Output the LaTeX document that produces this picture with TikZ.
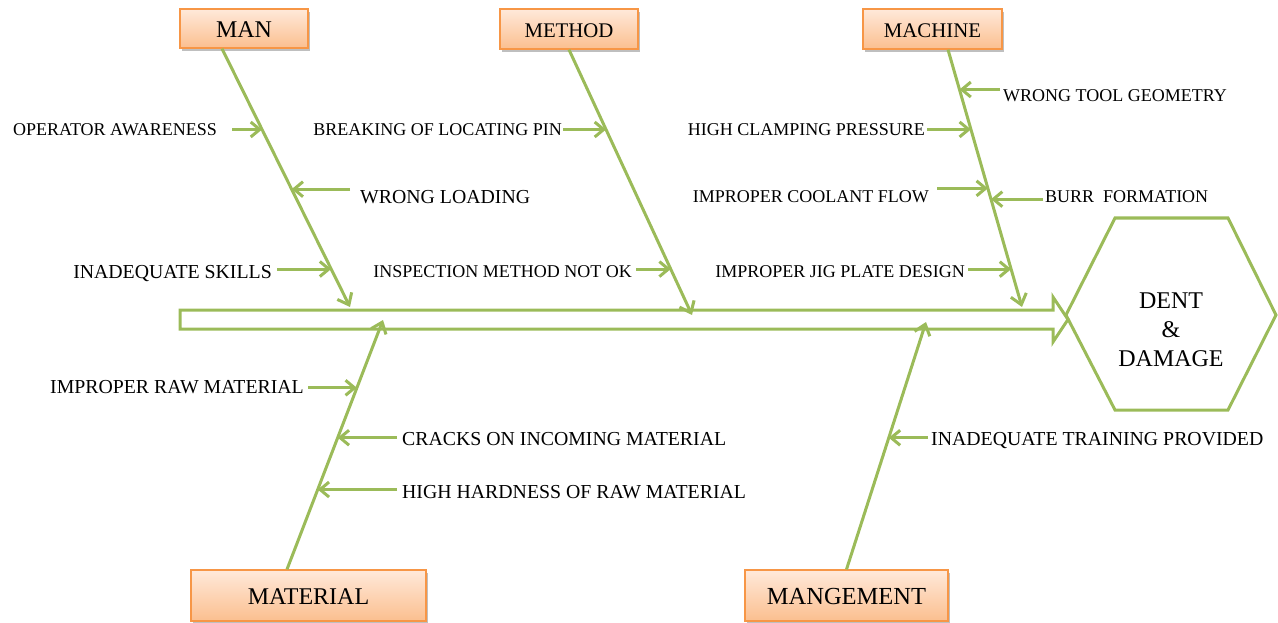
\documentclass[tikz,border=0pt]{standalone}
\usepackage{fontspec}
\setmainfont{Liberation Serif}
\usetikzlibrary{arrows.meta,calc,shadows}

\definecolor{fishgreen}{RGB}{155,187,89}
\definecolor{catedge}{RGB}{247,150,70}
\definecolor{cattop}{RGB}{255,233,218}
\definecolor{catbot}{RGB}{251,191,143}

\tikzset{
  bone/.style={fishgreen, line width=3pt, -{Straight Barb[length=10pt,width=16pt]}},
  cause/.style={fishgreen, line width=3pt, -{Straight Barb[length=9pt,width=15pt]}},
  cat/.style={draw=catedge, line width=1.3pt, top color=cattop, bottom color=catbot,
    drop shadow={shadow xshift=2pt,shadow yshift=-3pt,opacity=0.5}, inner sep=0pt},
  lbl/.style={inner sep=0pt, text height=11.8pt, text depth=0pt, font=\fontsize{18}{20}\selectfont},
  lblbig/.style={inner sep=0pt, text height=13pt, text depth=0pt, font=\fontsize{19.8}{22}\selectfont},
}

\begin{document}
\begin{tikzpicture}[x=1pt,y=-1pt]
        \useasboundingbox (0,0) rectangle (1278,623);
        %% spine and head
        \draw[fishgreen,line width=3pt,line join=miter] (180,310) -- (1053,310) -- (1053,297) -- (1068,319.5)
            -- (1053,342) -- (1053,329) -- (180,329) -- cycle;
        \draw[fishgreen,line width=3pt] (1066,315) -- (1115,218) -- (1228,218) -- (1276,315) -- (1228,410) -- (1115,410) -- cycle;
        \node[align=center,font=\fontsize{24}{29}\selectfont] (DD) at (1171,330) {DENT\\\&\\DAMAGE};
        %% categories
        \node[cat,minimum width=128pt,minimum height=39pt,text height=18.7pt,font=\fontsize{24}{26}\selectfont] (MAN) at (244,28.5) {MAN};
        \node[cat,minimum width=138pt,minimum height=40pt,text height=16.6pt,font=\fontsize{20.8}{24}\selectfont] (MET) at (569,29) {METHOD};
        \node[cat,minimum width=139pt,minimum height=40pt,text height=16.6pt,font=\fontsize{20.8}{24}\selectfont] (MAC) at (932.5,29) {MACHINE};
        \node[cat,minimum width=235pt,minimum height=51pt,text height=17.7pt,font=\fontsize{24}{26}\selectfont] (MAT) at (308.5,595.5) {MATERIAL};
        \node[cat,minimum width=203pt,minimum height=51pt,text height=19pt,font=\fontsize{24.5}{26}\selectfont] (MGT) at (846.5,595.5) {MANGEMENT};
        %% bones
        \coordinate (manA) at ([xshift=-22pt]MAN.south);
        \coordinate (manB) at (350,307);
        \coordinate (metA) at (MET.south);
        \coordinate (metB) at (692,315);
        \coordinate (macA) at ([xshift=15.5pt]MAC.south);
        \coordinate (macB) at (1022,307);
        \coordinate (matA) at ([xshift=-21.5pt]MAT.north);
        \coordinate (matB) at (383,320);
        \coordinate (mgtA) at (MGT.north);
        \coordinate (mgtB) at (926,322);
        \draw[bone] (manA) -- (manB);
        \draw[bone] (metA) -- (metB);
        \draw[bone] (macA) -- (macB);
        \draw[bone] (matA) -- (matB);
        \draw[bone] (mgtA) -- (mgtB);
        %% man
        \node[lbl,anchor=east] (OA) at (217,130) {OPERATOR AWARENESS};
        \node[lblbig,anchor=west] (WL) at (360,197) {WRONG LOADING};
        \node[lblbig,anchor=east] (IS) at (272,272) {INADEQUATE SKILLS};
        \coordinate (c1) at ($(manA)!0.313!(manB)$);
        \coordinate (c2) at ($(manA)!0.544!(manB)$);
        \coordinate (c3) at ($(manA)!0.853!(manB)$);
        \draw[cause] ([xshift=15pt]OA.east |- c1) -- (c1);
        \draw[cause] ([xshift=-10pt]WL.west |- c2) -- (c2);
        \draw[cause] ([xshift=5pt]IS.east |- c3) -- (c3);
        %% method
        \node[lbl,anchor=east] (BLP) at (562,130) {BREAKING OF LOCATING PIN};
        \node[lbl,anchor=east] (IMN) at (632,272) {INSPECTION METHOD NOT OK};
        \coordinate (c4) at ($(metA)!0.301!(metB)$);
        \coordinate (c5) at ($(metA)!0.827!(metB)$);
        \draw[cause] ([xshift=1pt]BLP.east |- c4) -- (c4);
        \draw[cause] ([xshift=4pt]IMN.east |- c5) -- (c5);
        %% machine
        \node[lbl,anchor=west] (WTG) at (1003,96) {WRONG TOOL GEOMETRY};
        \node[lbl,anchor=east] (HCP) at (925,130) {HIGH CLAMPING PRESSURE};
        \node[lbl,anchor=east] (ICF) at (929,197) {IMPROPER COOLANT FLOW};
        \node[lbl,anchor=west] (BF) at (1045,197) {BURR\ \ FORMATION};
        \node[lbl,anchor=east] (IJP) at (965,272) {IMPROPER JIG PLATE DESIGN};
        \coordinate (c6) at ($(macA)!0.155!(macB)$);
        \coordinate (c7) at ($(macA)!0.310!(macB)$);
        \coordinate (c8) at ($(macA)!0.539!(macB)$);
        \coordinate (c9) at ($(macA)!0.581!(macB)$);
        \coordinate (c10) at ($(macA)!0.853!(macB)$);
        \draw[cause] ([xshift=-3pt]WTG.west |- c6) -- (c6);
        \draw[cause] ([xshift=2pt]HCP.east |- c7) -- (c7);
        \draw[cause] ([xshift=8pt]ICF.east |- c8) -- (c8);
        \draw[cause] ([xshift=-2pt]BF.west |- c9) -- (c9);
        \draw[cause] ([xshift=3pt]IJP.east |- c10) -- (c10);
        %% material
        \node[lblbig,anchor=east] (IRM) at (304,387) {IMPROPER RAW MATERIAL};
        \node[lblbig,anchor=west] (CIM) at (402,439) {CRACKS ON INCOMING MATERIAL};
        \node[lblbig,anchor=west] (HHR) at (402,492) {HIGH HARDNESS OF RAW MATERIAL};
        \coordinate (c11) at ($(matA)!0.728!(matB)$);
        \coordinate (c12) at ($(matA)!0.528!(matB)$);
        \coordinate (c13) at ($(matA)!0.320!(matB)$);
        \draw[cause] ([xshift=4pt]IRM.east |- c11) -- (c11);
        \draw[cause] ([xshift=-5pt]CIM.west |- c12) -- (c12);
        \draw[cause] ([xshift=-5pt]HHR.west |- c13) -- (c13);
        %% management
        \node[lblbig,anchor=west] (ITP) at (931,439) {INADEQUATE TRAINING PROVIDED};
        \coordinate (c14) at ($(mgtA)!0.532!(mgtB)$);
        \draw[cause] ([xshift=-3pt]ITP.west |- c14) -- (c14);
    \end{tikzpicture}
\end{document}
